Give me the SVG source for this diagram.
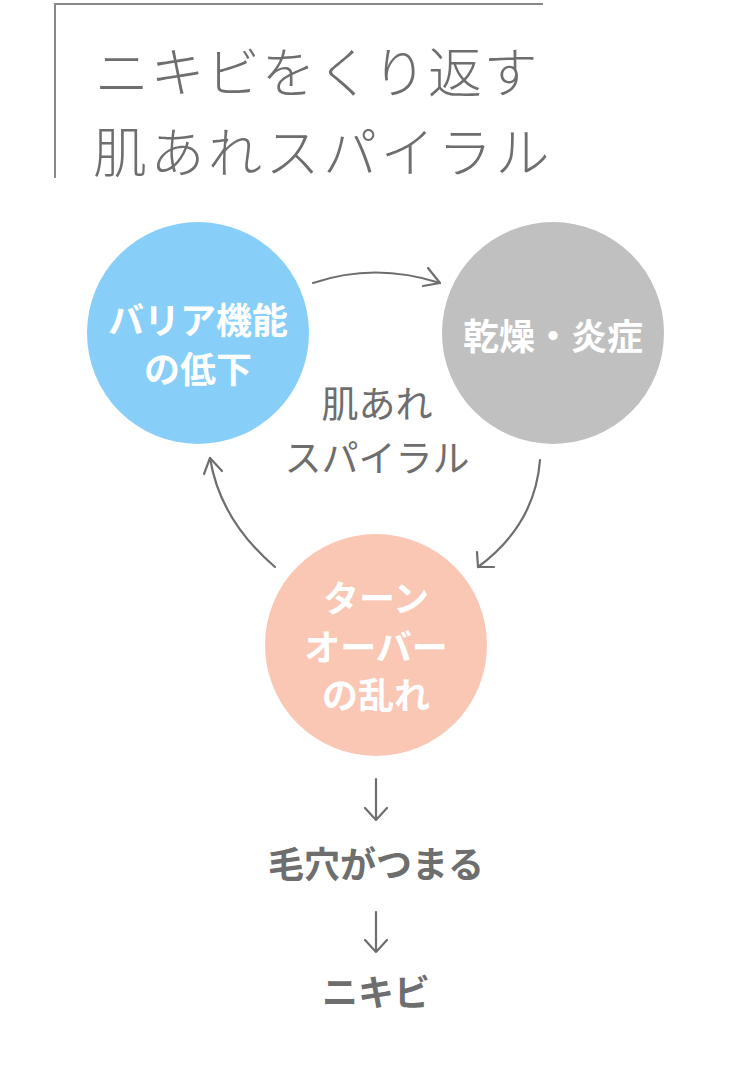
<svg xmlns="http://www.w3.org/2000/svg" width="750" height="1072" viewBox="0 0 750 1072">
<defs>
<style>
.t{font-family:"Noto Sans CJK JP","Noto Sans",sans-serif;}
.title{font-size:54px;font-weight:300;fill:#6e6e6e;}
.node{font-size:36px;font-weight:bold;fill:#ffffff;text-anchor:middle;}
.mid{font-size:37px;fill:#6e6e6e;text-anchor:middle;}
.step{font-size:36px;font-weight:bold;fill:#6e6e6e;text-anchor:middle;}
.c{fill:none;stroke:#6e6e6e;stroke-width:2.2;stroke-linecap:round;stroke-linejoin:round;}
</style>
</defs>
<rect width="750" height="1072" fill="#ffffff"/>
<g id="title">
<path d="M55,178 V4 H543" fill="none" stroke="#888888" stroke-width="2"/>
<text class="t title" x="95" y="93" letter-spacing="1.5">ニキビをくり返す</text>
<text class="t title" x="93" y="173" letter-spacing="3.5">肌あれスパイラル</text>
</g>
<g id="barrier">
<circle cx="198" cy="333" r="111" fill="#87CFF8"/>
<text class="t node" x="198" y="334">バリア機能</text>
<text class="t node" x="198" y="383">の低下</text>
</g>
<g id="dry">
<circle cx="553" cy="333" r="111" fill="#C0C0C0"/>
<text class="t node" x="553" y="350">乾燥・炎症</text>
</g>
<g id="turnover">
<circle cx="376" cy="645" r="111" fill="#FAC7B5"/>
<text class="t node" x="376" y="612">ターン</text>
<text class="t node" x="376" y="661">オーバー</text>
<text class="t node" x="376" y="709">の乱れ</text>
</g>
<g id="center-label">
<text class="t mid" x="377" y="418">肌あれ</text>
<text class="t mid" x="377" y="472">スパイラル</text>
</g>
<g id="connectors">
<path class="c" d="M313,283 Q375,262 440,283"/>
<path class="c" d="M428,268 L440,283 L423,286"/>
<path class="c" d="M540,460 Q535,525 478,567"/>
<path class="c" d="M477,552 L478,567 L494,567"/>
<path class="c" d="M275,567 Q220,520 210,458"/>
<path class="c" d="M204,474 L210,458 L222,471"/>
<path class="c" d="M376,779 V820 M365,808 L376,820 L387,808"/>
<path class="c" d="M376,912 V952 M365,940 L376,952 L387,940"/>
</g>
<g id="pores">
<text class="t step" x="376" y="878">毛穴がつまる</text>
</g>
<g id="acne">
<text class="t step" x="376" y="1006">ニキビ</text>
</g>
</svg>
